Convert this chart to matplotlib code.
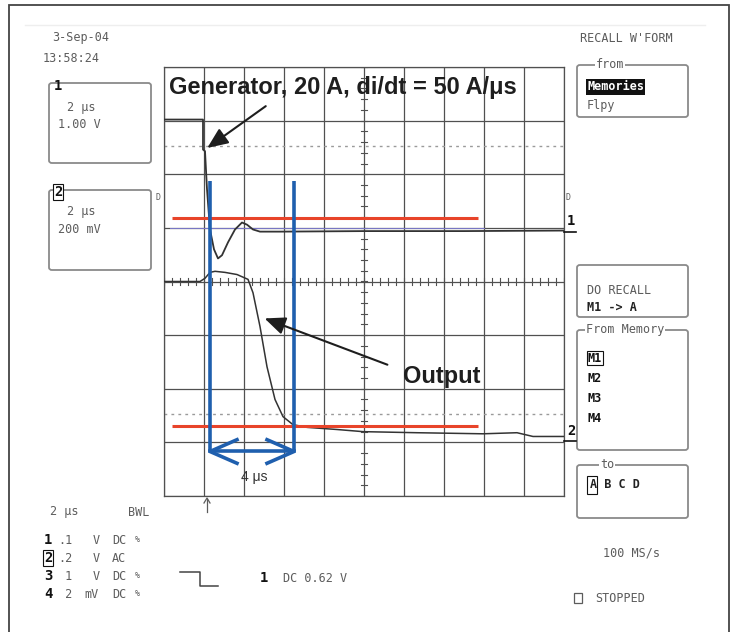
import matplotlib
matplotlib.use('Agg')
import matplotlib.pyplot as plt
import numpy as np
from matplotlib.patches import Rectangle, FancyBboxPatch
from matplotlib.lines import Line2D

W, H = 731, 632

# ---------------- data (time in µs, vertical in divisions) ----------------
t_gen = [0.0, 1.95, 1.95, 2.05, 2.15, 2.30, 2.50, 2.70, 2.90, 3.20, 3.55, 3.90,
         4.15, 4.45, 4.80, 5.80, 10.0, 15.0, 20.0]
v_gen = [3.02, 3.02, 2.46, 2.43, 1.72, 0.97, 0.60, 0.43, 0.49, 0.73, 0.97, 1.10,
         1.06, 0.97, 0.93, 0.93, 0.94, 0.94, 0.95]

t_out = [0.0, 0.8, 1.8, 2.05, 2.30, 2.55, 3.05, 3.65, 4.20, 4.45, 4.80, 5.15, 5.55,
         5.95, 6.45, 7.15, 8.65, 9.95, 12.65, 15.95, 17.65, 18.45, 20.0]
v_out = [0.0, 0.0, 0.0, 0.06, 0.17, 0.19, 0.17, 0.13, 0.04, -0.21, -0.84, -1.59, -2.20,
         -2.52, -2.67, -2.72, -2.76, -2.80, -2.82, -2.84, -2.82, -2.89, -2.89]

ref_levels = [1.19, -2.69]          # red threshold lines
ref_span = [0.4, 15.7]
cursor_times = [2.3, 6.5]           # blue cursors
cursor_span = [-3.17, 1.87]
dotted_levels = [2.52, -2.48]
trace1_marker_level = 1.0

x_divs = list(range(0, 21, 2))
y_divs = list(range(-4, 5))

title_text = "Generator, 20 A, di/dt = 50 A/μs"
output_text = "Output"
measure_text = "4 μs"

# ---------------- figure ----------------
fig = plt.figure(figsize=(W / 100, H / 100), dpi=100)
fig.patch.set_facecolor('white')

def fx(x):
    return x / W

def fy(y):
    return 1 - y / H

ax = fig.add_axes([fx(164), fy(496), 400 / W, 429 / H])
ax.set_xlim(0, 20)
ax.set_ylim(-4, 4)
ax.set_xticks(x_divs)
ax.set_yticks(y_divs)
ax.tick_params(length=0, labelbottom=False, labelleft=False)
ax.grid(True, color='#505050', lw=0.9)
for s in ax.spines.values():
    s.set_color('#505050')
    s.set_linewidth(0.9)
ax.set_facecolor('white')

# center axes ticks
for x in np.arange(0, 20.01, 0.4):
    ax.plot([x, x], [-0.06, 0.06], color='#505050', lw=0.8)
for y in np.arange(-4, 4.01, 0.2):
    ax.plot([9.85, 10.15], [y, y], color='#505050', lw=0.8)

# dotted reference lines
for lv in dotted_levels:
    ax.plot([0, 20], [lv, lv], color='#9a9a9a', lw=1.0, ls=(0, (2, 3)))

# thin purple marker line near trace 1
ax.plot([0.3, 16.0], [trace1_marker_level] * 2, color='#7a78c8', lw=0.7)

# traces
ax.plot(t_gen, v_gen, color='#333333', lw=1.3, zorder=4)
ax.plot(t_out, v_out, color='#333333', lw=1.1, zorder=4)

# red thresholds
for lv in ref_levels:
    ax.plot(ref_span, [lv, lv], color='#e8442a', lw=2.2, zorder=5, solid_capstyle='butt')

# blue cursors
blue = '#1f5fae'
for tc in cursor_times:
    ax.plot([tc, tc], cursor_span, color=blue, lw=2.6, zorder=6, solid_capstyle='butt')
yb = cursor_span[0]
ax.plot(cursor_times, [yb, yb], color=blue, lw=2.6, zorder=6)
cw, ch = 1.35, 0.22
l, r = cursor_times
ax.plot([l + cw, l, l + cw], [yb + ch, yb, yb - ch], color=blue, lw=2.6, zorder=6)
ax.plot([r - cw, r, r - cw], [yb + ch, yb, yb - ch], color=blue, lw=2.6, zorder=6)
ax.text((l + r) / 2 + 0.1, yb - 0.47, measure_text, ha='center', va='center',
        fontsize=10, color='#333333', family='Liberation Sans', zorder=7)

# annotations
ax.text(0.25, 3.62, title_text, ha='left', va='center', fontsize=17,
        fontweight='bold', family='Liberation Sans', color='#1e1e1e', zorder=8)
ax.annotate('', xy=(2.05, 2.46), xytext=(5.2, 3.30),
            arrowprops=dict(arrowstyle='-|>,head_length=0.7,head_width=0.3',
                            color='#1e1e1e', lw=1.5, mutation_scale=18), zorder=8)
ax.text(11.95, -1.77, output_text, ha='left', va='center', fontsize=17,
        fontweight='bold', family='Liberation Sans', color='#1e1e1e', zorder=8)
ax.annotate('', xy=(4.9, -0.67), xytext=(11.3, -1.57),
            arrowprops=dict(arrowstyle='-|>,head_length=0.7,head_width=0.3',
                            color='#1e1e1e', lw=1.5, mutation_scale=18), zorder=8)

# ---------------- scope UI decorations ----------------
gray = '#5c5c5c'
mono = 'DejaVu Sans Mono'

def t(x, y, s, size=8.5, color=gray, weight='normal', **kw):
    fig.text(fx(x), fy(y), s, ha=kw.pop('ha', 'left'), va=kw.pop('va', 'center'),
             fontsize=size, color=color, family=mono, fontweight=weight, **kw)

def box(x0, y0, x1, y1, color='#8a8a8a', lw=1.3):
    p = FancyBboxPatch((fx(x0), fy(y1)), fx(x1) - fx(x0), fy(y0) - fy(y1),
                       boxstyle='round,pad=0,rounding_size=0.004',
                       transform=fig.transFigure, fill=False, ec=color, lw=lw)
    fig.add_artist(p)

# outer frame
fig.add_artist(Rectangle((fx(9), -0.02), fx(729) - fx(9), fy(5) + 0.02,
                         transform=fig.transFigure, fill=False, ec='#444444', lw=1.3))
# faint top line
fig.add_artist(Line2D([fx(25), fx(705)], [fy(25), fy(25)], transform=fig.transFigure,
                      color='#eeeeee', lw=1.0))

t(52, 38, "3-Sep-04")
t(43, 58, "13:58:24")

box(49, 83, 151, 163)
t(54, 86, "1", size=10, color='#111111', weight='bold')
t(67, 107, "2 μs")
t(58, 125, "1.00 V")

box(49, 190, 151, 270)
t(54, 192, "2", size=10, color='#111111', weight='bold',
  bbox=dict(boxstyle='square,pad=0.05', fc='white', ec='#111111', lw=0.8))
t(67, 212, "2 μs")
t(58, 230, "200 mV")

t(156, 198, "D", size=6)
t(566, 198, "D", size=6)

# right panel
t(580, 38, "RECALL W'FORM")
box(577, 65, 688, 117)
t(596, 65, "from", bbox=dict(boxstyle='square,pad=0.05', fc='white', ec='none'))
t(587, 87, "Memories", color='white', weight='bold',
  bbox=dict(boxstyle='square,pad=0.1', fc='#111111', ec='none'))
t(587, 106, "Flpy")

box(577, 265, 688, 317)
t(587, 291, "DO RECALL")
t(587, 308, "M1 -> A", color='#222222', weight='bold')

box(577, 330, 688, 450)
t(586, 330, "From Memory", bbox=dict(boxstyle='square,pad=0.05', fc='white', ec='none'))
t(588, 358, "M1", color='#111111', weight='bold',
  bbox=dict(boxstyle='square,pad=0.05', fc='white', ec='#111111', lw=0.8))
t(588, 378, "M2", color='#111111', weight='bold')
t(588, 398, "M3", color='#111111', weight='bold')
t(588, 418, "M4", color='#111111', weight='bold')

box(577, 465, 688, 518)
t(600, 465, "to", bbox=dict(boxstyle='square,pad=0.05', fc='white', ec='none'))
t(590, 485, "A B C D", color='#222222', weight='bold')
fig.add_artist(Rectangle((fx(587), fy(494)), 10 / W, 18 / H, transform=fig.transFigure,
                         fill=False, ec='#111111', lw=0.8))

t(603, 553, "100 MS/s")
fig.add_artist(Rectangle((fx(574), fy(603)), 8 / W, 10 / H, transform=fig.transFigure,
                         fill=False, ec=gray, lw=0.9))
t(595, 598, "STOPPED")

# trace markers at right edge
t(567, 221, "1", size=10, color='#111111', weight='bold')
fig.add_artist(Line2D([fx(564), fx(576)], [fy(232), fy(232)], transform=fig.transFigure,
                      color='#111111', lw=1.2))
t(567, 431, "2", size=10, color='#111111', weight='bold')
fig.add_artist(Line2D([fx(564), fx(576)], [fy(441), fy(441)], transform=fig.transFigure,
                      color='#111111', lw=1.2))

# trigger position arrow below grid
fig.add_artist(Line2D([fx(207), fx(207)], [fy(512), fy(499)], transform=fig.transFigure,
                      color=gray, lw=0.9))
fig.add_artist(Line2D([fx(204), fx(207), fx(210)], [fy(503), fy(498), fy(503)],
                      transform=fig.transFigure, color=gray, lw=0.9))

# bottom-left settings
t(50, 512, "2 μs")
t(128, 512, "BWL")
rows = [("1", ".1", "V", "DC", True), ("2", ".2", "V", "AC", False),
        ("3", " 1", "V", "DC", True), ("4", " 2", "mV", "DC", True)]
ys = [540, 558, 576, 594]
for (ch, val, unit, cpl, sym), y in zip(rows, ys):
    kw = {}
    if ch == "2":
        kw = dict(bbox=dict(boxstyle='square,pad=0.05', fc='white', ec='#111111', lw=0.8))
    t(44, y, ch, size=10, color='#111111', weight='bold', **kw)
    t(58, y, val)
    t(93 if unit == "V" else 84, y, unit)
    t(112, y, cpl)
    if sym:
        t(135, y, "%", size=6)

fig.add_artist(Line2D([fx(180), fx(200), fx(200), fx(218)],
                      [fy(572), fy(572), fy(586), fy(586)],
                      transform=fig.transFigure, color='#444444', lw=1.1))
t(260, 578, "1", size=10, color='#111111', weight='bold')
t(283, 578, "DC 0.62 V")

fig.savefig('out.png', dpi=100, facecolor='white')
